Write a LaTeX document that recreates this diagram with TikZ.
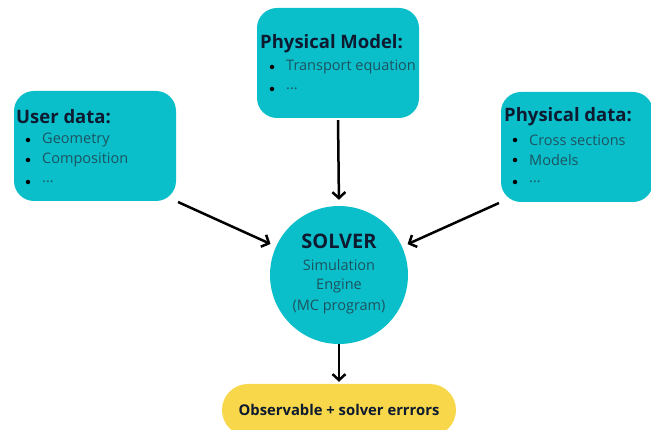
\documentclass[tikz,border=0pt]{standalone}
\usepackage{fontspec}
\setmainfont{Open Sans}
\usetikzlibrary{arrows.meta}
\definecolor{tealbox}{HTML}{0BBFCA}
\definecolor{pillyellow}{HTML}{F8D74A}
\definecolor{titleink}{HTML}{0D1A30}
\definecolor{itemink}{HTML}{1C5360}
\tikzset{
  box/.style={draw=none, fill=tealbox, rounded corners=20pt, inner sep=0pt},
  heading/.style={anchor=west, inner sep=0pt, text=titleink, font=\bfseries\fontsize{18.5}{22}\selectfont},
  item/.style={anchor=west, inner sep=0pt, text=itemink, font=\fontsize{14.5}{17}\selectfont},
  dot/.style={circle, fill=black, inner sep=0pt, minimum size=4.5pt},
  flow/.style={line width=2.5pt, -{Straight Barb[length=6pt,width=13pt]}},
}
\begin{document}
\begin{tikzpicture}[x=1pt,y=-1pt]
\useasboundingbox (0,0) rectangle (651,430);
\clip (0,0) rectangle (651,430);
\fill[white] (0,0) rectangle (651,430);

% input boxes
\node[box, minimum width=162pt, minimum height=110pt] (ud) at (95,146) {};
\node[box, minimum width=162pt, minimum height=110pt] (pm) at (338,63) {};
\node[box, minimum width=152pt, minimum height=110pt] (pd) at (577,147) {};

% user data
\node[heading] (udt) at (16,117) {User data:};
\node[dot] (ud1) at (28,140) {};
\node[item] (ud1t) at (42,140) {Geometry};
\node[dot] (ud2) at (28,160) {};
\node[item] (ud2t) at (42,160) {Composition};
\node[dot] (ud3) at (28,182) {};
\node[item] (ud3t) at (42,182) {...};

% physical model
\node[heading] (pmt) at (260,44) {Physical Model:};
\node[dot] (pm1) at (272,67) {};
\node[item] (pm1t) at (286,67) {Transport equation};
\node[dot] (pm2) at (272,89) {};
\node[item] (pm2t) at (286,89) {...};

% physical data
\node[heading] (pdt) at (504,117) {Physical data:};
\node[dot] (pd1) at (515,140) {};
\node[item] (pd1t) at (529,140) {Cross sections};
\node[dot] (pd2) at (515,160) {};
\node[item] (pd2t) at (529,160) {Models};
\node[dot] (pd3) at (515,182) {};
\node[item] (pd3t) at (529,182) {...};

% solver
\node[circle, fill=tealbox, minimum size=138pt, inner sep=0pt] (solver) at (339,275) {};
\node[inner sep=0pt, text=titleink, font=\bfseries\fontsize{20}{24}\selectfont] (svt) at (339,241) {SOLVER};
\node[inner sep=0pt, text=itemink, font=\fontsize{14.5}{17}\selectfont] (sv1) at (339,265) {Simulation};
\node[inner sep=0pt, text=itemink, font=\fontsize{14.5}{17}\selectfont] (sv2) at (339,286) {Engine};
\node[inner sep=0pt, text=itemink, font=\fontsize{14.5}{17}\selectfont] (sv3) at (339,307) {(MC program)};

% output
\node[fill=pillyellow, rounded corners=26pt, minimum width=234pt, minimum height=52pt, inner sep=0pt] (obs) at (339,410) {};
\node[inner sep=0pt, text=titleink, font=\bfseries\fontsize{14.8}{18}\selectfont] (obst) at (339,410) {Observable + solver errrors};

% connectors
\draw[flow, shorten <=2pt, shorten >=6pt] (ud.south east) -- (solver);
\draw[flow, shorten <=2pt, shorten >=6pt] (pd.south west) -- (solver);
\draw[flow, shorten <=2pt, shorten >=6pt] (pm.south) -- (solver.north);
\draw[flow, shorten >=2pt] (solver.south) -- (obs.north);
\end{tikzpicture}
\end{document}
